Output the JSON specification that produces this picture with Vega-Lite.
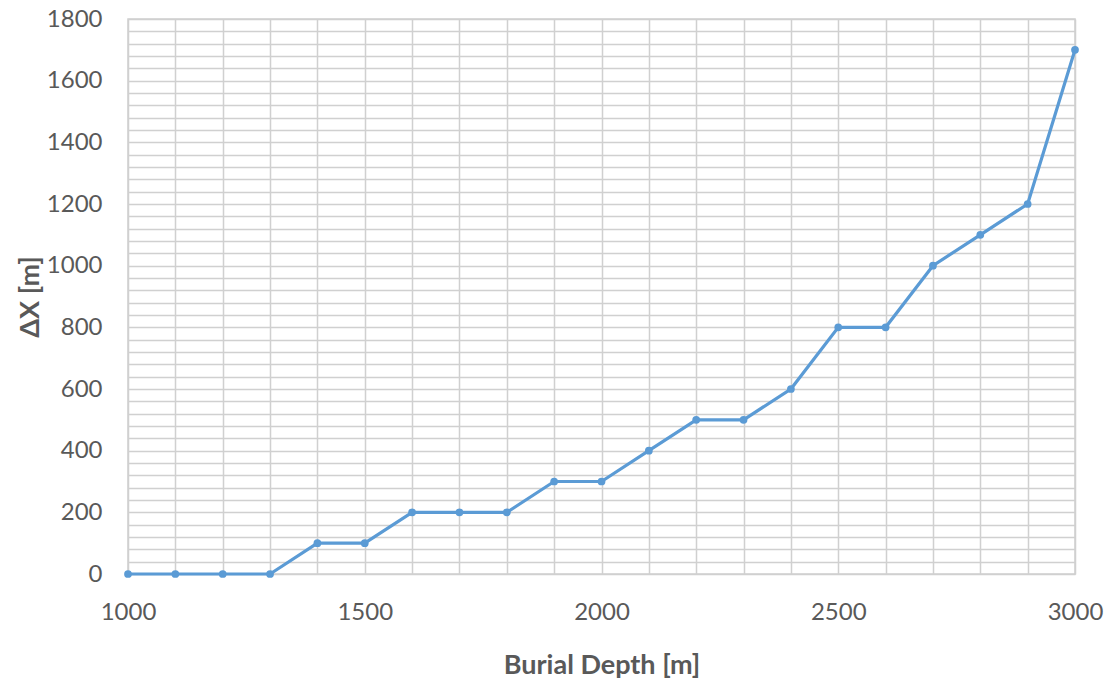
{
  "$schema": "https://vega.github.io/schema/vega-lite/v6.json",
  "autosize": "none",
  "width": 947,
  "height": 555,
  "padding": {"left": 128, "top": 19, "right": 42, "bottom": 110},
  "background": "white",
  "config": {
    "view": {"stroke": "#D0D0D0", "strokeWidth": 1.5},
    "font": "Lato"
  },
  "data": {
    "values": [
      {"depth": 1000, "dx": 0},
      {"depth": 1100, "dx": 0},
      {"depth": 1200, "dx": 0},
      {"depth": 1300, "dx": 0},
      {"depth": 1400, "dx": 100},
      {"depth": 1500, "dx": 100},
      {"depth": 1600, "dx": 200},
      {"depth": 1700, "dx": 200},
      {"depth": 1800, "dx": 200},
      {"depth": 1900, "dx": 300},
      {"depth": 2000, "dx": 300},
      {"depth": 2100, "dx": 400},
      {"depth": 2200, "dx": 500},
      {"depth": 2300, "dx": 500},
      {"depth": 2400, "dx": 600},
      {"depth": 2500, "dx": 800},
      {"depth": 2600, "dx": 800},
      {"depth": 2700, "dx": 1000},
      {"depth": 2800, "dx": 1100},
      {"depth": 2900, "dx": 1200},
      {"depth": 3000, "dx": 1700}
    ]
  },
  "mark": {"type": "line", "color": "#5B9BD5", "strokeWidth": 3.2, "point": {"filled": true, "size": 60, "color": "#5B9BD5", "opacity": 1}},
  "encoding": {
    "x": {
      "field": "depth",
      "type": "quantitative",
      "scale": {"domain": [1000, 3000], "nice": false, "zero": false},
      "axis": {
        "values": [1000,1100,1200,1300,1400,1500,1600,1700,1800,1900,2000,2100,2200,2300,2400,2500,2600,2700,2800,2900,3000],
        "labelExpr": "datum.value % 500 === 0 ? datum.label : ''",
        "format": "d",
        "labelFlush": false,
        "labelOverlap": false,
        "grid": true,
        "gridColor": "#D0D0D0",
        "gridWidth": 1.5,
        "ticks": false,
        "domain": false,
        "labelFontSize": 24,
        "labelColor": "#595959",
        "labelPadding": 26,
        "title": "Burial Depth [m]",
        "titleFontSize": 27,
        "titleFontWeight": "bold",
        "titleColor": "#595959",
        "titlePadding": 28
      }
    },
    "y": {
      "field": "dx",
      "type": "quantitative",
      "scale": {"domain": [0, 1800], "nice": false},
      "axis": {
        "values": [0,40,80,120,160,200,240,280,320,360,400,440,480,520,560,600,640,680,720,760,800,840,880,920,960,1000,1040,1080,1120,1160,1200,1240,1280,1320,1360,1400,1440,1480,1520,1560,1600,1640,1680,1720,1760,1800],
        "labelExpr": "datum.value % 200 === 0 ? datum.label : ''",
        "format": "d",
        "labelFlush": false,
        "labelOverlap": false,
        "grid": true,
        "gridColor": "#D0D0D0",
        "gridWidth": 1.5,
        "ticks": false,
        "domain": false,
        "labelFontSize": 24,
        "labelColor": "#595959",
        "labelPadding": 26,
        "title": "ΔX [m]",
        "titleFontSize": 27,
        "titleFontWeight": "bold",
        "titleColor": "#595959",
        "titlePadding": 2
      }
    }
  }
}
